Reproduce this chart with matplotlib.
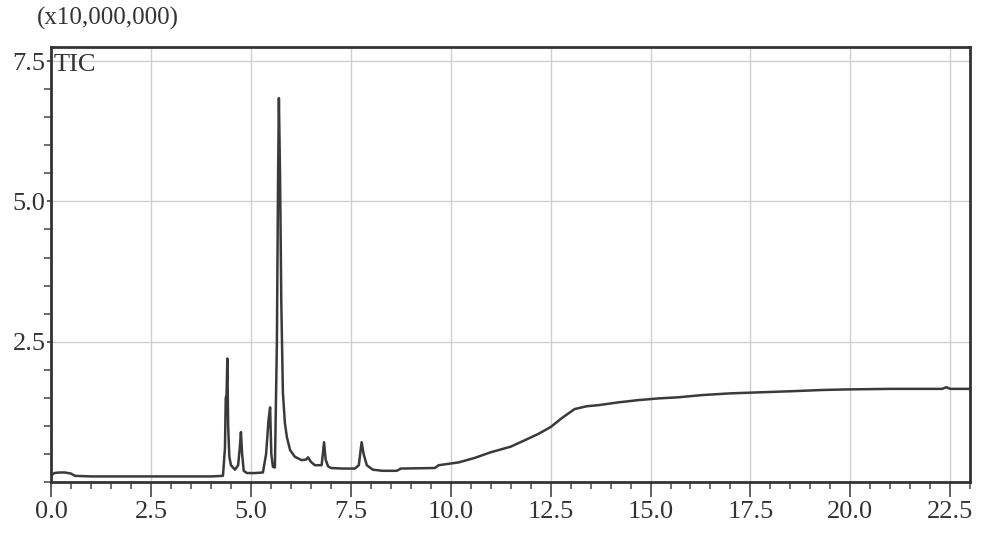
import numpy as np
import matplotlib.pyplot as plt
from matplotlib.ticker import MultipleLocator

tiempo = [0.0, 0.08, 0.2, 0.35, 0.5, 0.6, 1.0, 2.0, 3.0, 4.0, 4.3,
          4.35, 4.37, 4.39, 4.41, 4.43, 4.46, 4.5, 4.6, 4.68, 4.72, 4.75,
          4.78, 4.82, 4.9, 5.1, 5.3, 5.38, 5.44, 5.48, 5.51, 5.55, 5.6,
          5.65, 5.68, 5.7, 5.73, 5.76, 5.8, 5.85, 5.9, 5.98, 6.1, 6.27,
          6.38, 6.43, 6.5, 6.6, 6.77, 6.83, 6.87, 6.93, 7.0, 7.3, 7.6,
          7.7, 7.77, 7.82, 7.9, 8.05, 8.3, 8.65, 8.75, 9.6, 9.7, 10.2,
          10.6, 11.0, 11.5, 11.9, 12.2, 12.5, 12.8, 13.1, 13.4, 13.7,
          14.2, 14.7, 15.2, 15.7, 16.3, 17.0, 17.8, 18.6, 19.3, 19.9,
          21.0, 22.0, 22.3, 22.4, 22.5, 23.0]
tic = [0.12, 0.16, 0.17, 0.17, 0.15, 0.11, 0.1, 0.1, 0.1, 0.1, 0.11,
       0.6, 1.5, 1.55, 2.2, 1.0, 0.45, 0.3, 0.22, 0.3, 0.6, 0.89,
       0.5, 0.2, 0.16, 0.16, 0.17, 0.5, 1.1, 1.33, 0.5, 0.27, 0.26,
       2.5, 5.5, 6.84, 5.4, 3.2, 1.6, 1.05, 0.8, 0.57, 0.45, 0.39,
       0.4, 0.44, 0.36, 0.3, 0.3, 0.71, 0.4, 0.28, 0.25, 0.24, 0.24,
       0.3, 0.71, 0.5, 0.3, 0.22, 0.2, 0.2, 0.24, 0.25, 0.3, 0.35,
       0.43, 0.53, 0.63, 0.76, 0.86, 0.98, 1.15, 1.3, 1.35, 1.37,
       1.42, 1.46, 1.49, 1.51, 1.55, 1.58, 1.6, 1.62, 1.64, 1.65,
       1.66, 1.66, 1.66, 1.69, 1.66, 1.66]

x_ticks = [0.0, 2.5, 5.0, 7.5, 10.0, 12.5, 15.0, 17.5, 20.0, 22.5]
y_ticks = [2.5, 5.0, 7.5]

plt.rcParams['font.family'] = ['Liberation Serif', 'DejaVu Serif']

fig = plt.figure(figsize=(9.83, 5.35), dpi=100)
ax = fig.add_axes([0.052, 0.099, 0.935, 0.813])

ax.plot(tiempo, tic, color="#3a3a3a", lw=1.8)

ax.set_xlim(0, 23.0)
ax.set_ylim(0, 7.75)
ax.set_xticks(x_ticks)
ax.set_xticklabels([f"{v:.1f}" for v in x_ticks])
ax.set_yticks(y_ticks)
ax.set_yticklabels([f"{v:.1f}" for v in y_ticks])
ax.xaxis.set_minor_locator(MultipleLocator(0.5))
ax.yaxis.set_minor_locator(MultipleLocator(0.5))

ax.tick_params(axis="both", which="major", direction="out", length=11,
               width=1.2, color="#444444", labelsize=19, labelcolor="#333333")
ax.tick_params(axis="x", which="major", pad=3)
ax.tick_params(axis="y", which="major", length=3, pad=1)
ax.tick_params(axis="both", which="minor", direction="out", length=5,
               width=1.2, color="#555555")

ax.grid(which="major", color="#cfcfcf", lw=1.0)
for s in ax.spines.values():
    s.set_color("#333333")
    s.set_linewidth(2.0)

ax.text(0.003, 0.985, "TIC", transform=ax.transAxes, ha="left", va="top",
        fontsize=19, color="#333333")
fig.text(0.038, 0.965, "(x10,000,000)", ha="left", va="center",
         fontsize=18, color="#333333")

fig.savefig("out.png", dpi=100)
